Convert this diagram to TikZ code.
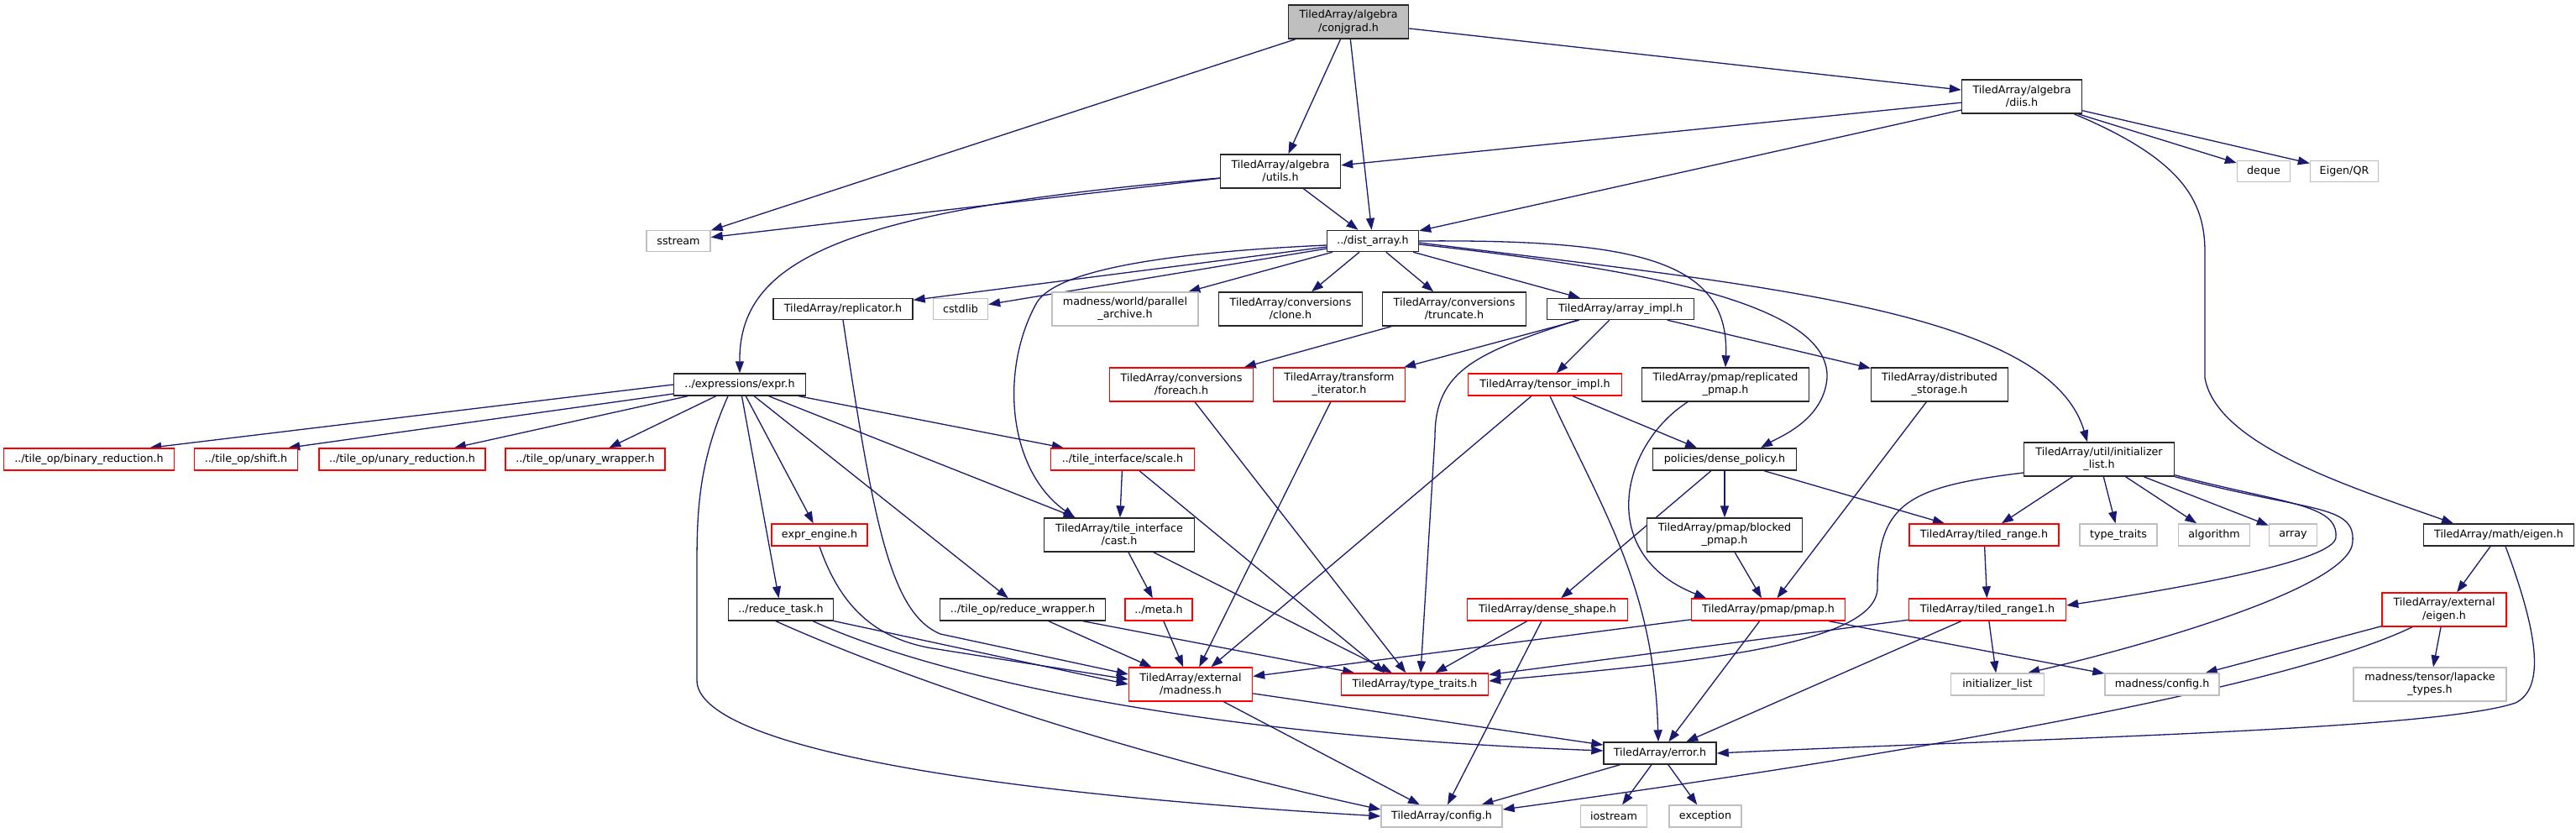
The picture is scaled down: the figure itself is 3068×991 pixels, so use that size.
\documentclass[tikz,border=0pt]{standalone}
\usepackage{fontspec}
\setmainfont{DejaVu Sans}
\usetikzlibrary{arrows.meta,calc}
\definecolor{edgec}{RGB}{25,25,112}
\definecolor{redb}{RGB}{255,0,0}
\definecolor{greyb}{RGB}{191,191,191}
\definecolor{curfill}{RGB}{191,191,191}
\pgfdeclarelayer{back}
\pgfdeclarelayer{edges}
\pgfsetlayers{back,edges,main}
\newcommand{\mknode}[7]{\node[#2, minimum width=#5pt, minimum height=#6pt] (#1) at (#3,#4) {#7};}
\tikzset{
  nd/.style={rectangle, inner sep=0pt, align=center, fill=white, line width=1.4pt,
    font=\fontsize{12.7}{15.3}\selectfont},
  blk/.style={nd, draw=black!85},
  redn/.style={nd, draw=redb},
  grey/.style={nd, draw=greyb},
  cur/.style={nd, draw=black!85, fill=curfill},
  e/.style={draw=edgec, line width=1.3pt, -{Triangle[length=14pt,width=10pt]}},
}
\begin{document}
\begin{tikzpicture}[x=1pt,y=-1pt]
\begin{pgfonlayer}{back}
\fill[white] (0,0) rectangle (3068,991);
\end{pgfonlayer}
\useasboundingbox (0,0) rectangle (3068,991);
% row 0
\mknode{conj}{cur}{1606}{26}{143}{40}{TiledArray/algebra\\/conjgrad.h}
\mknode{diis}{blk}{2408}{115}{143}{40}{TiledArray/algebra\\/diis.h}
\mknode{utils}{blk}{1525}{204}{143}{40}{TiledArray/algebra\\/utils.h}
\mknode{deque}{grey}{2696}{204}{63}{25}{deque}
\mknode{eigqr}{grey}{2792}{204}{81}{25}{Eigen/QR}
\mknode{sstream}{grey}{808}{287}{76}{25}{sstream}
\mknode{dist}{blk}{1635}{287}{109}{25}{../dist\_array.h}
% row 3
\mknode{repl}{blk}{1004}{368}{166}{25}{TiledArray/replicator.h}
\mknode{cstdlib}{grey}{1144}{368}{65}{25}{cstdlib}
\mknode{parch}{grey}{1340}{368}{174}{40}{madness/world/parallel\\\_archive.h}
\mknode{clone}{blk}{1537}{368}{171}{40}{TiledArray/conversions\\/clone.h}
\mknode{trunc}{blk}{1732}{368}{171}{40}{TiledArray/conversions\\/truncate.h}
\mknode{aimpl}{blk}{1930}{368}{175}{25}{TiledArray/array\_impl.h}
% row 4
\mknode{expr}{blk}{881}{458}{157}{26}{../expressions/expr.h}
\mknode{foreach}{redn}{1407}{458}{171}{40}{TiledArray/conversions\\/foreach.h}
\mknode{titer}{redn}{1595}{458}{157}{40}{TiledArray/transform\\\_iterator.h}
\mknode{timpl}{redn}{1840}{458}{183}{26}{TiledArray/tensor\_impl.h}
\mknode{rpmap}{blk}{2055}{458}{199}{40}{TiledArray/pmap/replicated\\\_pmap.h}
\mknode{dstor}{blk}{2310}{458}{163}{40}{TiledArray/distributed\\\_storage.h}
% row 5
\mknode{binred}{redn}{106}{547}{203}{26}{../tile\_op/binary\_reduction.h}
\mknode{shift}{redn}{293}{547}{123}{26}{../tile\_op/shift.h}
\mknode{unred}{redn}{479}{547}{198}{26}{../tile\_op/unary\_reduction.h}
\mknode{unwrap}{redn}{697}{547}{190}{26}{../tile\_op/unary\_wrapper.h}
\mknode{scale}{redn}{1337}{547}{171}{26}{../tile\_interface/scale.h}
\mknode{dpol}{blk}{2054}{547}{171}{26}{policies/dense\_policy.h}
\mknode{inil}{blk}{2500}{547}{179}{40}{TiledArray/util/initializer\\\_list.h}
% row 6
\mknode{exeng}{redn}{976}{637}{114}{26}{expr\_engine.h}
\mknode{cast}{blk}{1333}{637}{179}{40}{TiledArray/tile\_interface\\/cast.h}
\mknode{bpmap}{blk}{2054}{637}{185}{40}{TiledArray/pmap/blocked\\\_pmap.h}
\mknode{trange}{redn}{2363}{637}{178}{26}{TiledArray/tiled\_range.h}
\mknode{stdtt}{grey}{2523}{637}{92}{26}{type\_traits}
\mknode{algo}{grey}{2637}{637}{85}{26}{algorithm}
\mknode{array}{grey}{2731}{637}{57}{26}{array}
\mknode{meigen}{blk}{2976}{637}{179}{26}{TiledArray/math/eigen.h}
% row 7
\mknode{rtask}{blk}{930}{726}{125}{26}{../reduce\_task.h}
\mknode{rwrap}{blk}{1218}{726}{197}{26}{../tile\_op/reduce\_wrapper.h}
\mknode{meta}{redn}{1380}{726}{80}{26}{../meta.h}
\mknode{dshape}{redn}{1843}{726}{191}{26}{TiledArray/dense\_shape.h}
\mknode{pmap}{redn}{2106}{726}{183}{26}{TiledArray/pmap/pmap.h}
\mknode{trange1}{redn}{2367}{726}{187}{26}{TiledArray/tiled\_range1.h}
\mknode{eeigen}{redn}{2911}{726}{148}{40}{TiledArray/external\\/eigen.h}
% row 8
\mknode{madh}{redn}{1418}{815}{147}{40}{TiledArray/external\\/madness.h}
\mknode{ttraits}{redn}{1685}{815}{175}{26}{TiledArray/type\_traits.h}
\mknode{stdinil}{grey}{2379}{815}{111}{26}{initializer\_list}
\mknode{mconf}{grey}{2575}{815}{136}{26}{madness/config.h}
\mknode{lapacke}{grey}{2894}{815}{182}{40}{madness/tensor/lapacke\\\_types.h}
% row 9
\mknode{err}{blk}{1977}{897}{134}{26}{TiledArray/error.h}
% row 10
\mknode{conf}{grey}{1717}{972}{144}{26}{TiledArray/config.h}
\mknode{iostream}{grey}{1922}{972}{79}{26}{iostream}
\mknode{exc}{grey}{2031}{972}{86}{26}{exception}

\begin{pgfonlayer}{edges}
% conjgrad
\draw[e] (conj) -- (sstream);
\draw[e] (conj) -- (utils);
\draw[e] (conj) -- (dist);
\draw[e] (conj) -- (diis);
% diis
\draw[e] (diis) -- (utils);
\draw[e] (diis) -- (dist);
\draw[e] (diis) -- (deque);
\draw[e] (diis) -- (eigqr);
\draw[e] ($(diis.south east)+(-10,0)$) .. controls (2600,190) and (2626,240) .. (2626,300) -- (2626,450) .. controls (2640,530) and (2800,580) .. ($(meigen.north)+(-54,0)$);
% utils
\draw[e] (utils) -- (sstream);
\draw[e] (utils) -- (dist);
\draw[e] ($(utils.west)+(0,8)$) .. controls (1000,250) and (880,310) .. (expr.north);
% dist_array
\draw[e] (dist) -- (repl);
\draw[e] (dist) -- (cstdlib);
\draw[e] (dist) -- (parch);
\draw[e] (dist) -- (clone);
\draw[e] (dist) -- (trunc);
\draw[e] (dist) -- (aimpl);
\draw[e] ($(dist.west)+(0,5)$) .. controls (1400,300) and (1260,320) .. (1235,360) .. controls (1190,440) and (1200,560) .. ($(cast.north)+(-53,0)$);
\draw[e] (dist.east) .. controls (1950,285) and (2060,310) .. (rpmap.north);
\draw[e] ($(dist.east)+(0,4)$) .. controls (1950,320) and (2180,360) .. (2176,450) .. controls (2172,500) and (2120,520) .. ($(dpol.north)+(43,0)$);
\draw[e] ($(dist.east)+(0,2)$) .. controls (2100,340) and (2440,370) .. ($(inil.north)+(-14,0)$);
% replicator
\draw[e] (repl.south) .. controls (1040,620) and (1060,730) .. (1120,755) -- ($(madh.west)+(0,-12)$);
% array_impl
\draw[e] (aimpl) -- (titer);
\draw[e] (aimpl) -- (timpl);
\draw[e] (aimpl) -- (dstor);
\draw[e] ($(aimpl.south)+(-52,0)$) .. controls (1760,420) and (1709,440) .. (1709,520) -- ($(ttraits.north)+(7,0)$);
% truncate
\draw[e] (trunc) -- (foreach);
% expr
\draw[e] (expr.west) -- ($(binred.north east)+(-30,0)$);
\draw[e] (expr) -- ($(shift.north east)+(-12,0)$);
\draw[e] (expr) -- (unred);
\draw[e] (expr) -- (unwrap);
\draw[e] (expr) -- (scale);
\draw[e] (expr) -- (cast);
\draw[e] (expr) -- (rwrap);
\draw[e] (expr) -- (exeng);
\draw[e] (expr) -- (rtask);
\draw[e] ($(expr.south)+(-14,0)$) .. controls (828,560) and (830,620) .. (830,700) -- (830,810) .. controls (830,880) and (1100,940) .. (conf.west);
% scale, cast, meta
\draw[e] (scale) -- (cast);
\draw[e] ($(scale.south)+(20,0)$) -- ($(ttraits.north)+(-36,0)$);
\draw[e] (cast) -- (meta);
\draw[e] (cast) -- (ttraits);
\draw[e] (meta) -- (madh);
% expr_engine
\draw[e] (exeng.south) .. controls (1000,720) and (1040,760) .. (1110,772) -- ($(madh.west)+(0,-6)$);
% reduce_task
\draw[e] (rtask) -- (madh.west);
\draw[e] ($(rtask.south east)+(-25,0)$) .. controls (1100,800) and (1400,875) .. ($(err.west)+(0,-3)$);
\draw[e] ($(rtask.south)+(-6,0)$) .. controls (1080,810) and (1350,900) .. ($(conf.west)+(0,-8)$);
% reduce_wrapper
\draw[e] (rwrap) -- (madh);
\draw[e] (rwrap) -- (ttraits);
% foreach, transform_iterator
\draw[e] (foreach) -- (ttraits);
\draw[e] (titer) -- (madh);
% tensor_impl
\draw[e] (timpl) -- (madh);
\draw[e] (timpl) -- (dpol);
\draw[e] ($(timpl.south)+(6,0)$) .. controls (1910,610) and (1970,700) .. ($(err.north)+(-2,0)$);
% pmaps, storage
\draw[e] ($(rpmap.south)+(-45,0)$) .. controls (1930,530) and (1900,660) .. ($(pmap.north)+(-74,0)$);
\draw[e] (dstor) -- (pmap);
% dense_policy
\draw[e] (dpol) -- (dshape);
\draw[e] (dpol) -- (bpmap);
\draw[e] (dpol) -- (trange);
\draw[e] (bpmap) -- (pmap);
% dense_shape
\draw[e] (dshape) -- (ttraits);
\draw[e] (dshape) -- (conf);
% pmap
\draw[e] (pmap) -- (err);
\draw[e] (pmap) -- (madh);
\draw[e] (pmap) -- (mconf);
% tiled ranges
\draw[e] (trange) -- (trange1);
\draw[e] (trange1) -- (ttraits);
\draw[e] (trange1) -- (err);
\draw[e] (trange1) -- (stdinil);
% initializer_list.h
\draw[e] (inil) -- (trange);
\draw[e] (inil) -- (stdtt);
\draw[e] (inil) -- (algo);
\draw[e] (inil) -- (array);
\draw[e] ($(inil.south east)+(0,-2)$) .. controls (2720,600) and (2785,600) .. (2782,640) .. controls (2780,668) and (2600,700) .. ($(trange1.east)+(0,-5)$);
\draw[e] (inil.south east) .. controls (2750,610) and (2805,600) .. (2802,645) .. controls (2800,700) and (2550,770) .. ($(stdinil.north east)+(-20,0)$);
\draw[e] ($(inil.west)+(0,16)$) .. controls (2270,580) and (2236,600) .. (2236,700) .. controls (2236,770) and (2000,790) .. ($(ttraits.east)+(0,-4)$);
% eigen
\draw[e] (meigen) -- (eeigen);
\draw[e] ($(meigen.south)+(8,0)$) .. controls (3025,760) and (3030,820) .. (2996,837) .. controls (2900,870) and (2400,880) .. (err.east);
\draw[e] (eeigen) -- (mconf);
\draw[e] (eeigen) -- (lapacke);
\draw[e] ($(eeigen.south)+(-38,0)$) .. controls (2700,830) and (2150,915) .. ($(conf.east)+(0,-8)$);
% madness.h
\draw[e] (madh) -- (err);
\draw[e] (madh) -- (conf);
% error.h
\draw[e] (err) -- (conf);
\draw[e] (err) -- (iostream);
\draw[e] (err) -- (exc);
\end{pgfonlayer}
\end{tikzpicture}
\end{document}
